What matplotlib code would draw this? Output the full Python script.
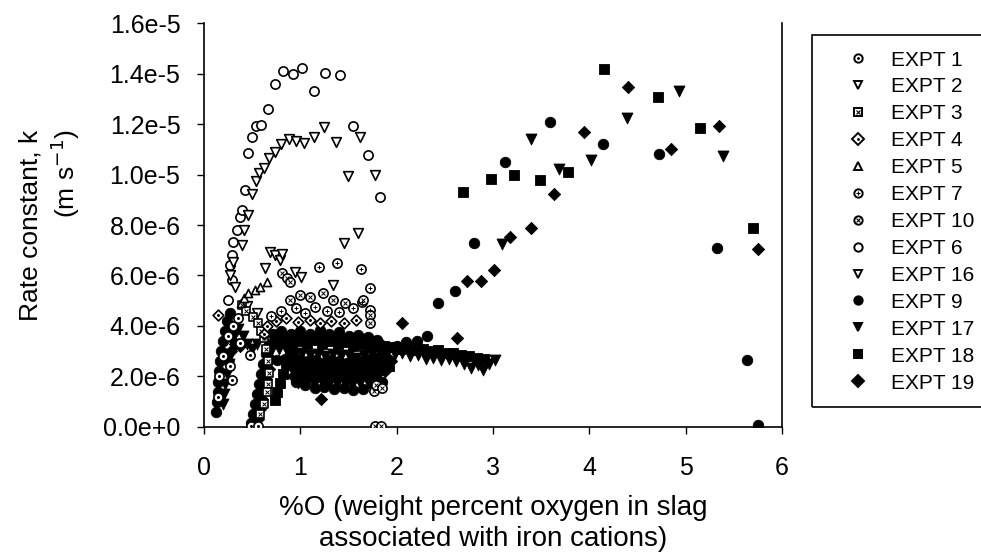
import numpy as np
import matplotlib
matplotlib.use("Agg")
import matplotlib.pyplot as plt
from matplotlib.lines import Line2D
from matplotlib.patches import Rectangle

plt.rcParams["font.family"] = ["Liberation Sans", "DejaVu Sans"]

# -----------------------------
# DATA  (x = %O, y = k in units of 1e-6 m/s)
# -----------------------------
e1_x = [0.14, 0.16, 0.20, 0.25, 0.29, 0.27, 0.37, 0.48, 0.30, 0.35, 0.49, 0.56]
e1_y = [1.2, 2.0, 2.8, 3.6, 1.86, 2.4, 3.31, 2.85, 4.0, 4.3, 0.05, 0.05]

e2_x = [0.63, 0.69, 0.74, 0.79, 0.81, 0.94, 1.01, 1.34, 1.45, 1.60, 0.45, 0.55]
e2_y = [6.28, 6.94, 6.81, 6.61, 6.85, 6.15, 5.95, 5.62, 7.27, 7.67, 4.8, 4.5]

e3_x = [0.39, 0.44, 0.51, 0.56, 0.59, 0.62, 0.64, 0.66, 0.67, 0.66, 0.65, 0.62, 0.58]
e3_y = [4.83, 4.6, 4.37, 4.11, 3.8, 3.51, 3.1, 2.6, 2.13, 1.7, 1.40, 0.9, 0.5]

e4_x = [0.15, 0.62, 0.65, 0.75, 0.85, 0.98, 1.10, 1.20, 1.32, 1.45, 1.58]
e4_y = [4.43, 3.7, 4.0, 4.2, 4.3, 4.15, 4.25, 4.1, 4.2, 4.1, 4.25]

e5_x = [0.38, 0.42, 0.46, 0.53, 0.58, 0.65]
e5_y = [4.9, 5.1, 5.29, 5.42, 5.56, 5.75]

e7_x = [1.19, 1.38, 1.63, 1.72, 1.64, 1.72, 0.70, 0.80, 0.95, 1.05, 1.15, 1.28, 1.40, 1.55]
e7_y = [6.35, 6.51, 6.26, 5.49, 4.96, 4.63, 4.4, 4.6, 4.7, 4.5, 4.75, 4.6, 4.55, 4.7]

e10_x = [0.81, 0.86, 0.89, 0.89, 1.00, 1.10, 1.24, 1.34, 1.46, 1.65, 1.72, 1.72,
         1.76, 1.79, 1.85, 1.77, 1.84]
e10_y = [6.09, 5.92, 5.75, 5.03, 5.23, 5.16, 5.29, 5.03, 4.9, 5.03, 4.43, 4.11,
         1.44, 1.66, 1.53, 0.05, 0.05]

e6_x = [0.25, 0.29, 0.27, 0.29, 0.30, 0.34, 0.37, 0.39, 0.43, 0.46, 0.50, 0.54,
        0.59, 0.66, 0.74, 0.82, 0.92, 1.02, 1.14, 1.26, 1.41, 1.55, 1.70, 1.83]
e6_y = [5.03, 5.82, 6.42, 6.81, 7.34, 7.80, 8.30, 8.59, 9.39, 10.84, 11.47, 11.92,
        11.95, 12.58, 13.57, 14.09, 13.97, 14.21, 13.32, 14.03, 13.93, 11.92, 10.76, 9.10]

e16_x = [0.27, 0.32, 0.30, 0.39, 0.41, 0.46, 0.50, 0.54, 0.57, 0.62, 0.67, 0.74,
         0.80, 0.88, 0.96, 1.04, 1.14, 1.25, 1.37, 1.49, 1.62, 1.77]
e16_y = [6.02, 5.56, 6.55, 7.21, 7.80, 8.40, 9.23, 9.76, 10.05, 10.25, 10.64, 10.88,
         11.21, 11.39, 11.34, 11.24, 11.50, 11.89, 11.30, 9.95, 11.47, 9.98]

e9_x = [0.12, 0.13, 0.14, 0.15, 0.16, 0.17, 0.18, 0.20, 0.22, 0.24, 0.27,
        0.49, 0.51, 0.53, 0.55, 0.57, 0.59, 0.61, 0.64, 0.67,
        0.72, 0.80, 0.90, 1.00, 1.10, 1.20, 1.30, 1.40, 1.50, 1.60, 1.70, 1.80,
        0.76, 0.84, 0.92, 1.00, 1.08, 1.16, 1.24, 1.32, 1.40, 1.48, 1.56, 1.64, 1.72, 1.80, 1.88,
        0.95, 1.05, 1.15, 1.25, 1.35, 1.45, 1.55, 1.65, 1.75, 1.85,
        2.00, 2.10, 2.21, 2.31, 2.43, 2.61, 2.80, 3.12, 3.59, 4.14, 4.72, 5.33, 5.64, 5.75]
e9_y = [0.6, 1.0, 1.4, 1.8, 2.2, 2.6, 3.0, 3.4, 3.8, 4.2, 4.5,
        0.15, 0.5, 0.9, 1.3, 1.7, 2.1, 2.5, 2.9, 3.3,
        3.7, 3.8, 3.7, 3.8, 3.7, 3.85, 3.7, 3.75, 3.6, 3.65, 3.55, 3.45,
        2.65, 2.7, 2.6, 2.7, 2.6, 2.65, 2.55, 2.65, 2.6, 2.55, 2.65, 2.6, 2.7, 2.75, 2.8,
        1.8, 1.65, 1.55, 1.6, 1.5, 1.55, 1.45, 1.5, 1.65, 1.8,
        3.2, 3.35, 3.41, 3.62, 4.90, 5.40, 7.27, 10.48, 12.09, 11.20, 10.80, 7.10, 2.65, 0.08]

e17_x = [0.20, 0.21, 0.22, 0.24, 0.26, 0.28, 0.30, 0.32,
         0.30, 0.35, 0.40, 0.45, 0.50, 0.55,
         0.53, 0.55, 0.57, 0.60, 0.62, 0.65,
         0.70, 0.78, 0.86, 0.94, 1.02, 1.10, 1.18, 1.26, 1.34, 1.42, 1.50, 1.58, 1.66, 1.74, 1.82, 1.90,
         0.98, 1.06, 1.14, 1.22, 1.30, 1.38, 1.46, 1.54, 1.62, 1.70, 1.78,
         1.98, 2.06, 2.14, 2.22, 2.30, 2.38, 2.46, 2.54, 2.62, 2.70, 2.77, 2.84, 2.90, 2.96, 3.02,
         3.09, 3.39, 3.69, 4.02, 4.39, 4.93, 5.39]
e17_y = [0.9, 1.3, 1.7, 2.1, 2.5, 2.9, 3.3, 3.7,
         3.6, 3.9, 3.6, 3.3, 3.1, 3.3,
         0.4, 0.8, 1.2, 1.6, 2.0, 2.4,
         3.0, 3.1, 3.0, 2.9, 2.95, 2.85, 2.9, 2.8, 2.9, 2.8, 2.85, 2.75, 2.85, 2.9, 3.0, 2.95,
         1.75, 1.8, 1.7, 1.8, 1.75, 1.7, 1.75, 1.65, 1.75, 1.8, 1.95,
         2.9, 2.95, 2.8, 2.85, 2.7, 2.75, 2.65, 2.7, 2.6, 2.5, 2.35, 2.45, 2.25, 2.5, 2.65,
         7.24, 11.39, 10.22, 10.57, 12.23, 13.32, 10.73]

e18_x = [0.74, 0.76, 0.79, 0.82, 0.85, 0.89,
         0.75, 0.83, 0.91, 0.99, 1.07, 1.15, 1.23, 1.31, 1.39, 1.47, 1.55, 1.63, 1.71, 1.79, 1.87, 1.95,
         0.96, 1.04, 1.12, 1.20, 1.28, 1.36, 1.44, 1.52, 1.60, 1.68, 1.76, 1.84, 1.92,
         2.03, 2.11, 2.19, 2.27, 2.35, 2.43, 2.51, 2.59, 2.67, 2.75, 2.83, 2.91,
         2.69, 2.98, 3.22, 3.49, 3.78, 4.15, 4.71, 5.15, 5.70]
e18_y = [1.05, 1.4, 1.75, 2.1, 2.45, 2.8,
         3.4, 3.35, 3.3, 3.4, 3.3, 3.45, 3.3, 3.4, 3.25, 3.35, 3.2, 3.3, 3.2, 3.3, 3.2, 3.15,
         2.2, 2.25, 2.2, 2.2, 2.25, 2.15, 2.2, 2.15, 2.2, 2.25, 2.25, 2.35, 2.4,
         3.1, 3.15, 3.05, 3.1, 3.0, 3.05, 2.95, 2.95, 2.85, 2.8, 2.75, 2.7,
         9.32, 9.82, 9.98, 9.77, 10.11, 14.17, 13.06, 11.85, 7.89]

e19_x = [0.25, 0.28, 0.32, 0.37,
         0.56, 0.58, 0.60, 0.62, 0.64, 0.67, 0.70,
         0.78, 0.86, 0.94, 1.02, 1.10, 1.18, 1.26, 1.34, 1.42, 1.50, 1.58, 1.66, 1.74, 1.82,
         0.90, 0.98, 1.06, 1.14, 1.22, 1.30, 1.38, 1.46, 1.54, 1.62, 1.70, 1.78, 1.86, 1.94,
         0.92, 1.00, 1.08, 1.16, 1.24, 1.32, 1.40, 1.48, 1.56, 1.64, 1.72, 1.80, 1.88,
         1.21, 2.06, 2.63, 2.73, 2.88, 3.01, 3.18, 3.39, 3.63, 3.95, 4.40, 4.85, 5.35, 5.75]
e19_y = [2.6, 3.0, 3.3, 3.2,
         0.3, 0.7, 1.1, 1.5, 1.9, 2.3, 2.7,
         3.55, 3.5, 3.55, 3.6, 3.5, 3.6, 3.55, 3.5, 3.55, 3.45, 3.4, 3.45, 3.4, 3.35,
         2.4, 2.5, 2.35, 2.5, 2.4, 2.5, 2.35, 2.45, 2.3, 2.45, 2.4, 2.5, 2.55, 2.6,
         2.0, 2.1, 2.0, 1.95, 2.05, 1.95, 2.05, 1.9, 1.95, 2.0, 2.05, 2.1, 2.2,
         1.12, 4.11, 3.51, 5.78, 5.80, 6.22, 7.51, 7.87, 9.23, 11.70, 13.48, 11.0, 11.93, 7.04]

y_ticks = [0, 2e-6, 4e-6, 6e-6, 8e-6, 1e-5, 1.2e-5, 1.4e-5, 1.6e-5]
y_tick_labels = ["0.0e+0", "2.0e-6", "4.0e-6", "6.0e-6", "8.0e-6",
                 "1.0e-5", "1.2e-5", "1.4e-5", "1.6e-5"]

# series: label, x, y, marker, filled, inner marker
series = [
    ("EXPT 1", e1_x, e1_y, "o", False, "."),
    ("EXPT 2", e2_x, e2_y, "v", False, None),
    ("EXPT 3", e3_x, e3_y, "s", False, "x"),
    ("EXPT 4", e4_x, e4_y, "D", False, "."),
    ("EXPT 5", e5_x, e5_y, "^", False, None),
    ("EXPT 7", e7_x, e7_y, "o", False, "+"),
    ("EXPT 10", e10_x, e10_y, "o", False, "x"),
    ("EXPT 6", e6_x, e6_y, "o", False, None),
    ("EXPT 16", e16_x, e16_y, "v", False, None),
    ("EXPT 9", e9_x, e9_y, "o", True, None),
    ("EXPT 17", e17_x, e17_y, "v", True, None),
    ("EXPT 18", e18_x, e18_y, "s", True, None),
    ("EXPT 19", e19_x, e19_y, "D", True, None),
]

sizes = {"o": 44, "v": 48, "s": 36, "D": 30, "^": 34}

fig = plt.figure(figsize=(9.81, 5.57), dpi=100)
ax = fig.add_axes([0.208, 0.2334, 0.589, 0.7253])

# filled series first so the open symbols sit on top of the black blobs
order = [s for s in series if s[4]] + [s for s in series if not s[4]]
for label, xs, ys, mk, filled, inner in order:
    yv = np.array(ys) * 1e-6
    if filled:
        ax.scatter(xs, yv, s=sizes[mk] * 1.3, marker=mk, c="black",
                   edgecolors="black", linewidths=0.6, zorder=2)
    else:
        ax.scatter(xs, yv, s=sizes[mk], marker=mk, facecolors="white",
                   edgecolors="black", linewidths=1.2, zorder=3)
        if inner:
            ax.scatter(xs, yv, s=8, marker=inner, c="black", linewidths=0.7, zorder=4)

ax.set_xlim(0, 6)
ax.set_ylim(0, 1.6e-5)
ax.set_xticks(range(7))
ax.set_yticks(y_ticks)
ax.set_yticklabels(y_tick_labels)
ax.tick_params(axis="both", labelsize=18, direction="out", length=5, width=1, color="black")
ax.tick_params(axis="x", pad=16)
ax.tick_params(axis="y", pad=12)
for side in ["left", "bottom", "right"]:
    ax.spines[side].set_linewidth(1.2)
ax.spines["top"].set_visible(False)

ax.set_xlabel("%O (weight percent oxygen in slag\nassociated with iron cations)",
              fontsize=20, linespacing=1.25)
ax.xaxis.set_label_coords(0.5, -0.168)
ax.set_ylabel("Rate constant, k\n(m s$^{-1}$)", fontsize=19, multialignment="right")
ax.yaxis.set_label_coords(-0.212, 0.5)

# legend
handles = []
for label, xs, ys, mk, filled, inner in series:
    base = Line2D([], [], linestyle="none", marker=mk, markersize=6,
                  markerfacecolor="black" if filled else "white",
                  markeredgecolor="black", markeredgewidth=1.4)
    if inner:
        dot = Line2D([], [], linestyle="none", marker=inner, markersize=2.5,
                     color="black", markeredgewidth=0.8)
        handles.append((base, dot))
    else:
        handles.append(base)

leg = fig.legend(handles, [s[0] for s in series], loc="center left",
                 bbox_to_anchor=(0.8637, 0.6023), frameon=False, fontsize=15,
                 handlelength=1.0, handletextpad=1.1, labelspacing=0.38,
                 borderpad=0, borderaxespad=0)
fig.patches.append(Rectangle((0.8277, 0.2693), 0.25, 0.668, transform=fig.transFigure,
                             fill=False, edgecolor="black", linewidth=1.2))

fig.savefig("out.png", dpi=100)
